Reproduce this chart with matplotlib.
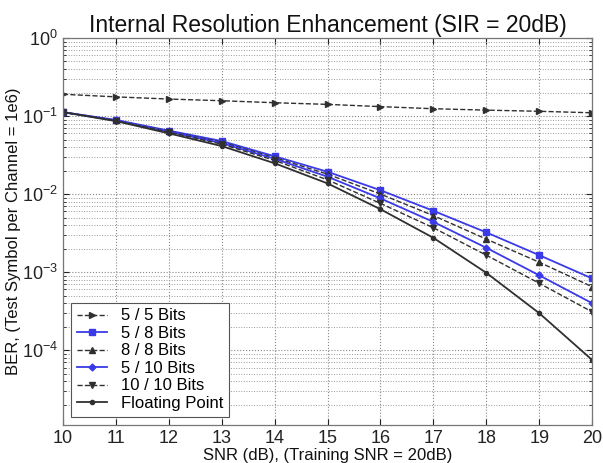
import matplotlib
matplotlib.use("Agg")
import matplotlib.pyplot as plt
from matplotlib.ticker import LogLocator, NullFormatter, FixedLocator

plt.rcParams['font.family'] = ['Liberation Sans', 'DejaVu Sans']
plt.rcParams['mathtext.fontset'] = 'custom'
plt.rcParams['mathtext.rm'] = 'Liberation Sans'
plt.rcParams['mathtext.it'] = 'Liberation Sans'

snr = [10, 11, 12, 13, 14, 15, 16, 17, 18, 19, 20]

ber_5_5 = [0.190, 0.176, 0.165, 0.157, 0.148, 0.141, 0.132, 0.124, 0.119, 0.115, 0.110]
ber_5_8 = [0.112, 0.089, 0.065, 0.0478, 0.0305, 0.0193, 0.0112, 0.0061, 0.00323, 0.00165, 0.00083]
ber_8_8 = [0.112, 0.088, 0.064, 0.0462, 0.0293, 0.0180, 0.0100, 0.0053, 0.00265, 0.00134, 0.00065]
ber_5_10 = [0.112, 0.088, 0.063, 0.0450, 0.0283, 0.0167, 0.0088, 0.0044, 0.00205, 0.00091, 0.00040]
ber_10_10 = [0.112, 0.087, 0.062, 0.0436, 0.0270, 0.0152, 0.0076, 0.0037, 0.00165, 0.00072, 0.00031]
ber_float = [0.112, 0.086, 0.060, 0.0412, 0.0248, 0.0137, 0.0064, 0.00275, 0.00098, 0.000298, 0.000075]

labels = ['5 / 5 Bits', '5 / 8 Bits', '8 / 8 Bits', '5 / 10 Bits', '10 / 10 Bits', 'Floating Point']
decades = [1e-4, 1e-3, 1e-2, 1e-1, 1e0]

blue = '#3a3ae8'
dark = '#303030'

fig = plt.figure(figsize=(6.03, 4.63), dpi=100)
ax = fig.add_axes([0.1045, 0.082, 0.8775, 0.836])

ms = 4
ax.semilogy(snr, ber_5_5, linestyle='--', color=dark, marker='>', ms=ms, lw=1.0, label=labels[0])
ax.semilogy(snr, ber_5_8, linestyle='-', color=blue, marker='s', ms=ms, lw=1.3, label=labels[1])
ax.semilogy(snr, ber_8_8, linestyle='--', color=dark, marker='^', ms=ms, lw=1.0, label=labels[2])
ax.semilogy(snr, ber_5_10, linestyle='-', color=blue, marker='D', ms=3.5, lw=1.3, label=labels[3])
ax.semilogy(snr, ber_10_10, linestyle='--', color=dark, marker='v', ms=ms, lw=1.0, label=labels[4])
ax.semilogy(snr, ber_float, linestyle='-', color=dark, marker='o', ms=3, lw=1.3, label=labels[5])

ax.set_xlim(10, 20)
ax.set_ylim(1.1e-5, 1e0)
ax.set_xticks(snr)
ax.yaxis.set_major_locator(FixedLocator(decades))
ax.yaxis.set_minor_locator(LogLocator(base=10, subs=range(2, 10), numticks=20))
ax.yaxis.set_minor_formatter(NullFormatter())

ax.grid(True, which='major', axis='both', linestyle=':', color='#888888', lw=0.8)
ax.grid(True, which='minor', axis='y', linestyle=':', color='#999999', lw=0.7)

ax.tick_params(axis='both', which='both', direction='in', top=True, right=True,
               labelsize=13, colors='#222222')
ax.tick_params(axis='both', which='major', length=4)
ax.tick_params(axis='both', which='minor', length=2)
for s in ax.spines.values():
    s.set_color('#777777')
    s.set_linewidth(0.9)

ax.set_title('Internal Resolution Enhancement (SIR = 20dB)', fontsize=16.5, pad=4, color='#111111')
ax.set_xlabel('SNR (dB), (Training SNR = 20dB)', fontsize=12, labelpad=1, color='#111111')
ax.set_ylabel('BER, (Test Symbol per Channel = 1e6)', fontsize=12, labelpad=1, color='#111111')

leg = ax.legend(loc='lower left', fontsize=12, frameon=True, fancybox=False,
                edgecolor='#555555', framealpha=1, handlelength=1.8, handletextpad=0.8,
                borderaxespad=0.5, labelspacing=0.15, borderpad=0.35)
leg.get_frame().set_linewidth(0.8)

fig.savefig('out.png', dpi=100)
